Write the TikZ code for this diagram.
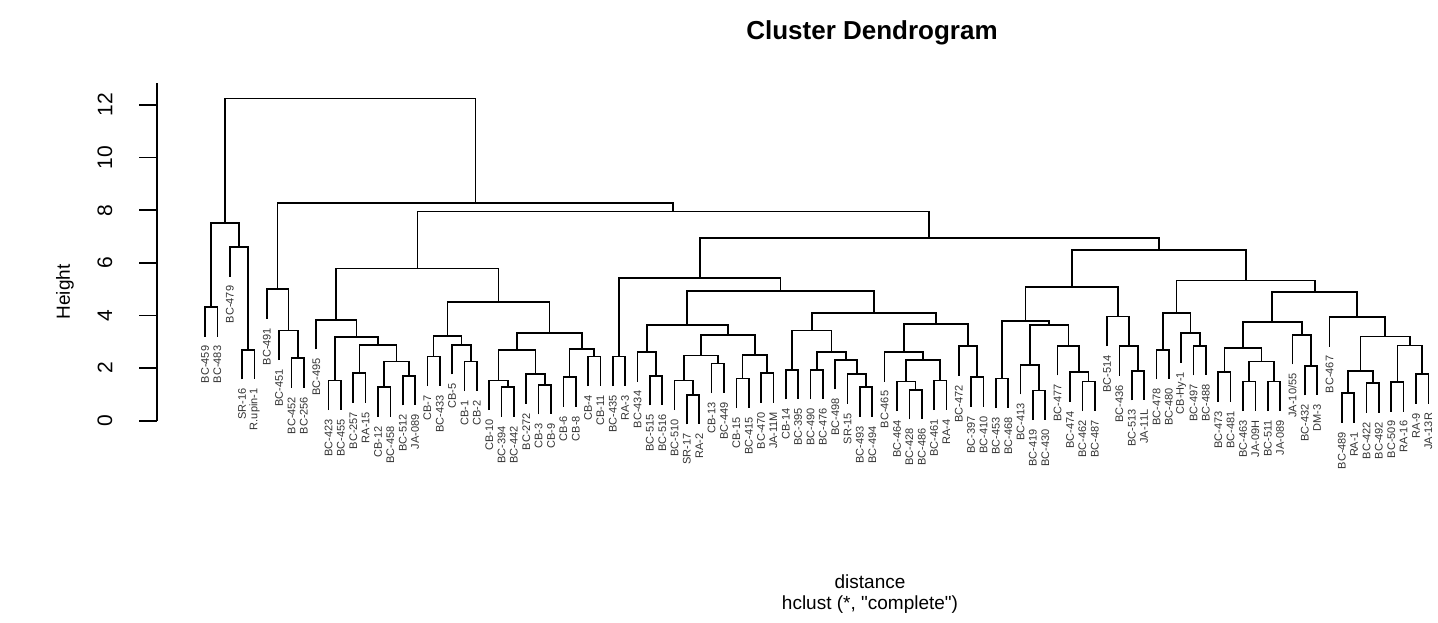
\documentclass[tikz,border=0pt]{standalone}
\usepackage{fontspec}
\setmainfont{Liberation Sans}
\setmonofont{Liberation Sans}
\def\hng{1.126}
\def\lgap{0.342}
\newcommand\qq{{\ttfamily\symbol{34}}}
\newcommand\LL[5]{%
 \draw[tree] (#1,{#3-\hng}) |- (#2,#3) -- (#2,{#3-\hng});
 \node[lab] (n#1) at (#1,{#3-\hng-\lgap}) {#4};
 \node[lab] (n#2) at (#2,{#3-\hng-\lgap}) {#5};}
\newcommand\LN[5]{%
 \draw[tree] (#1,{#4-\hng}) |- (#2,#4) -- (#2,#3);
 \node[lab] (n#1) at (#1,{#4-\hng-\lgap}) {#5};}
\newcommand\NN[5]{%
 \draw[tree] (#1,#2) |- (#3,#5) -- (#3,#4);}
\begin{document}
\begin{tikzpicture}[x=1pt,y=1pt,
  tree/.style={line width=1.7pt, black},
  lab/.style={rotate=90, anchor=east, inner sep=0pt, font=\fontsize{11}{11}\selectfont, text=black!80},
  tick/.style={rotate=90, font=\fontsize{21}{21}\selectfont},
  ttl/.style={font=\fontsize{26}{26}\selectfont\bfseries},
  axt/.style={font=\fontsize{19}{19}\selectfont}]
\useasboundingbox (0,0) rectangle (1438,622);
\fill[white] (0,0) rectangle (1438,622);
% title and axis labels
\node[ttl] (title) at (872,589) {Cluster Dendrogram};
\node[axt,rotate=90] (ylab) at (65,330) {Height};
\node[axt] (xlab) at (870,40) {distance};
\node[axt] (sub) at (870,17) {hclust (*, \qq complete\qq)};
% y axis
\draw[tree] (156.7,201.3) -- (156.7,538.7);
\foreach \v in {0,2,...,12} {
  \draw[tree] (139,{201.3+26.31*\v}) -- (156.7,{201.3+26.31*\v});
  \node[tick] (t\v) at (105,{201.3+26.31*\v}) {\v};
}
\begin{scope}[shift={(192.643,201.3)}, x=12.357pt, y=26.31pt]
% left group
\LL{1}{2}{4.32}{BC-459}{BC-483}
\LL{4}{5}{2.7}{SR-16}{R.upin-1}
\LN{3}{4.5}{2.7}{6.6}{BC-479}
\NN{1.5}{4.32}{3.75}{6.6}{7.52}
% G
\LL{8}{9}{2.38}{BC-452}{BC-256}
\LN{7}{8.5}{2.38}{3.43}{BC-451}
\LN{6}{7.75}{3.43}{5.0}{BC-491}
% H
\LL{11}{12}{1.53}{BC-423}{BC-455}
\LL{13}{14}{1.81}{BC-257}{RA-15}
\LL{15}{16}{1.27}{CB-12}{BC-458}
\LL{17}{18}{1.71}{BC-512}{JA-089}
\NN{15.5}{1.27}{17.5}{1.71}{2.25}
\NN{13.5}{1.81}{16.5}{2.25}{2.89}
\NN{11.5}{1.53}{15}{2.89}{3.18}
\LN{10}{13.25}{3.18}{3.84}{BC-495}
\LL{19}{20}{2.44}{CB-7}{BC-433}
\LL{22}{23}{2.25}{CB-1}{CB-2}
\LN{21}{22.5}{2.25}{2.89}{CB-5}
\NN{19.5}{2.44}{21.75}{2.89}{3.23}
\LL{25}{26}{1.27}{BC-394}{BC-442}
\LN{24}{25.5}{1.27}{1.53}{CB-10}
\LL{28}{29}{1.37}{CB-3}{CB-9}
\LN{27}{28.5}{1.37}{1.77}{BC-272}
\NN{24.75}{1.53}{27.75}{1.77}{2.7}
\LL{30}{31}{1.65}{CB-6}{CB-8}
\LL{32}{33}{2.44}{CB-4}{CB-11}
\NN{30.5}{1.65}{32.5}{2.44}{2.72}
\NN{26.25}{2.7}{31.5}{2.72}{3.33}
\NN{20.625}{3.23}{28.875}{3.33}{4.5}
\NN{11.625}{3.84}{24.75}{4.5}{5.78}
% S
\LL{34}{35}{2.44}{BC-435}{RA-3}
\LL{37}{38}{1.71}{BC-515}{BC-516}
\LN{36}{37.5}{1.71}{2.61}{BC-434}
\LL{40}{41}{0.99}{SR-17}{RA-2}
\LN{39}{40.5}{0.99}{1.53}{BC-510}
\LL{42}{43}{2.17}{CB-13}{BC-449}
\NN{39.75}{1.53}{42.5}{2.17}{2.48}
\LL{44}{45}{1.6}{CB-15}{BC-415}
\LL{46}{47}{1.81}{BC-470}{JA-11M}
\NN{44.5}{1.6}{46.5}{1.81}{2.51}
\NN{41.125}{2.48}{45.5}{2.51}{3.27}
\NN{36.75}{2.61}{43.3125}{3.27}{3.65}
\LL{48}{49}{1.94}{CB-14}{BC-395}
\LL{50}{51}{1.94}{BC-490}{BC-476}
\LL{54}{55}{1.27}{BC-493}{BC-494}
\LN{53}{54.5}{1.27}{1.77}{SR-15}
\LN{52}{53.75}{1.77}{2.32}{BC-498}
\NN{50.5}{1.94}{52.875}{2.32}{2.6}
\NN{48.5}{1.94}{51.6875}{2.6}{3.43}
\LL{58}{59}{1.18}{BC-428}{BC-486}
\LN{57}{58.5}{1.18}{1.49}{BC-464}
\LL{60}{61}{1.53}{BC-461}{RA-4}
\NN{57.75}{1.49}{60.5}{1.53}{2.32}
\LN{56}{59.125}{2.32}{2.61}{BC-465}
\LL{63}{64}{1.65}{BC-397}{BC-410}
\LN{62}{63.5}{1.65}{2.83}{BC-472}
\NN{57.5625}{2.61}{62.75}{2.83}{3.67}
\NN{50.09375}{3.43}{60.15625}{3.67}{4.09}
\NN{40.03125}{3.65}{55.125}{4.09}{4.94}
\NN{34.5}{2.44}{47.578125}{4.94}{5.42}
% T
\LL{65}{66}{1.6}{BC-453}{BC-468}
\LL{68}{69}{1.15}{BC-419}{BC-430}
\LN{67}{68.5}{1.15}{2.13}{BC-413}
\LL{72}{73}{1.49}{BC-462}{BC-487}
\LN{71}{72.5}{1.49}{1.84}{BC-474}
\LN{70}{71.75}{1.84}{2.85}{BC-477}
\NN{67.75}{2.13}{70.875}{2.85}{3.65}
\NN{65.5}{1.6}{69.3125}{3.65}{3.78}
\LL{76}{77}{1.9}{BC-513}{JA-11L}
\LN{75}{76.5}{1.9}{2.83}{BC-436}
\LN{74}{75.75}{2.83}{3.96}{BC-514}
\NN{67.40625}{3.78}{74.875}{3.96}{5.07}
\LL{78}{79}{2.7}{BC-478}{BC-480}
\LL{81}{82}{2.85}{BC-497}{BC-488}
\LN{80}{81.5}{2.85}{3.33}{CB-Hy-1}
\NN{78.5}{2.7}{80.75}{3.33}{4.09}
\LL{83}{84}{1.84}{BC-473}{BC-481}
\LL{85}{86}{1.49}{BC-463}{JA-09H}
\LL{87}{88}{1.49}{BC-511}{JA-089}
\NN{85.5}{1.49}{87.5}{1.49}{2.25}
\NN{83.5}{1.84}{86.5}{2.25}{2.76}
\LL{90}{91}{2.09}{BC-432}{DM-3}
\LN{89}{90.5}{2.09}{3.27}{JA-10/55}
\NN{85}{2.76}{89.75}{3.27}{3.74}
\LL{93}{94}{1.05}{BC-489}{RA-1}
\LL{95}{96}{1.43}{BC-422}{BC-492}
\NN{93.5}{1.05}{95.5}{1.43}{1.9}
\LL{97}{98}{1.47}{BC-509}{RA-16}
\LL{99}{100}{1.77}{RA-9}{JA-13R}
\NN{97.5}{1.47}{99.5}{1.77}{2.86}
\NN{94.5}{1.9}{98.5}{2.86}{3.2}
\LN{92}{96.5}{3.2}{3.94}{BC-467}
\NN{87.375}{3.74}{94.25}{3.94}{4.88}
\NN{79.625}{4.09}{90.8125}{4.88}{5.33}
\NN{71.140625}{5.07}{85.21875}{5.33}{6.5}
\NN{41.0390625}{5.42}{78.1796875}{6.5}{6.95}
\NN{18.1875}{5.78}{59.609375}{6.95}{7.95}
\NN{6.875}{5.0}{38.8984375}{7.95}{8.27}
\NN{2.625}{7.52}{22.88671875}{8.27}{12.25}
\end{scope}
\end{tikzpicture}
\end{document}
